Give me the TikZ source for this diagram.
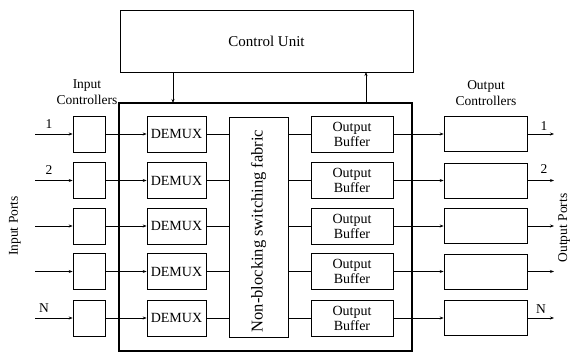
\documentclass[tikz,border=0pt]{standalone}
\usepackage{fontspec}
\setmainfont{Liberation Serif}
\usetikzlibrary{arrows.meta}
\begin{document}
\begin{tikzpicture}[x=1pt,y=-1pt,
  box/.style={draw, line width=0.7pt, rectangle, inner sep=0pt, align=center, font=\fontsize{14}{15}\selectfont},
  lbl/.style={inner sep=0pt, align=center, font=\fontsize{13.5}{16.5}\selectfont},
  arr/.style={line width=0.7pt, -{Stealth[length=4pt,width=3pt]}},
  ln/.style={line width=0.7pt}]
\useasboundingbox (0,0) rectangle (571,356);
\node[box, minimum width=293pt, minimum height=62pt, font=\fontsize{15}{16}\selectfont] (cu) at (266.5,41) {Control Unit};
\node[draw, line width=1.2pt, minimum width=293pt, minimum height=248pt, inner sep=0pt] (big) at (265.5,227) {};
\node[box, minimum width=59pt, minimum height=220pt] (fab) at (258.5,227) {};
\node[lbl, rotate=90, font=\fontsize{16.5}{18}\selectfont] (fabt) at (258.5,231) {Non-blocking switching fabric};
\coordinate (cuA) at (173,72);
\coordinate (bigA) at (173,103);
\coordinate (bigB) at (366,103);
\coordinate (cuB) at (366,72);
\draw[arr] (cuA) -- (bigA);
\draw[arr] (bigB) -- (cuB);
\node[lbl] (icl) at (87,92) {Input\\Controllers};
\node[lbl] (ocl) at (486,93) {Output\\Controllers};
\node[lbl, rotate=90] (ipl) at (15,226) {Input Ports};
\node[lbl, rotate=90] (opl) at (564,228) {Output Ports};
\foreach \i/\y in {1/134,2/180.5,3/226,4/271.5,5/318} {
  \node[box, minimum width=32pt, minimum height=36pt] (ic\i) at (89,\y) {};
  \node[box, minimum width=59pt, minimum height=36pt] (dm\i) at (176.5,\y) {DEMUX};
  \node[box, minimum width=82pt, minimum height=36pt] (ob\i) at (352,\y) {Output\\Buffer};
  \node[box, minimum width=83pt, minimum height=35pt] (oc\i) at (485.5,\y) {};
  \coordinate (in\i) at (35,\y);
  \coordinate (out\i) at (554,\y);
  \draw[arr] (in\i) -- (ic\i);
  \draw[arr] (ic\i) -- (dm\i);
  \draw[ln] (dm\i) -- (dm\i -| fab.west);
  \draw[ln] (ob\i -| fab.east) -- (ob\i);
  \draw[arr] (ob\i) -- (oc\i);
  \draw[arr] (oc\i) -- (out\i);
}
\node[lbl] (l1) at (49,124) {1};
\node[lbl] (l2) at (49,170) {2};
\node[lbl] (lN) at (44,308) {N};
\node[lbl] (r1) at (544,126) {1};
\node[lbl] (r2) at (544,169) {2};
\node[lbl] (rN) at (541,309) {N};
\end{tikzpicture}
\end{document}
